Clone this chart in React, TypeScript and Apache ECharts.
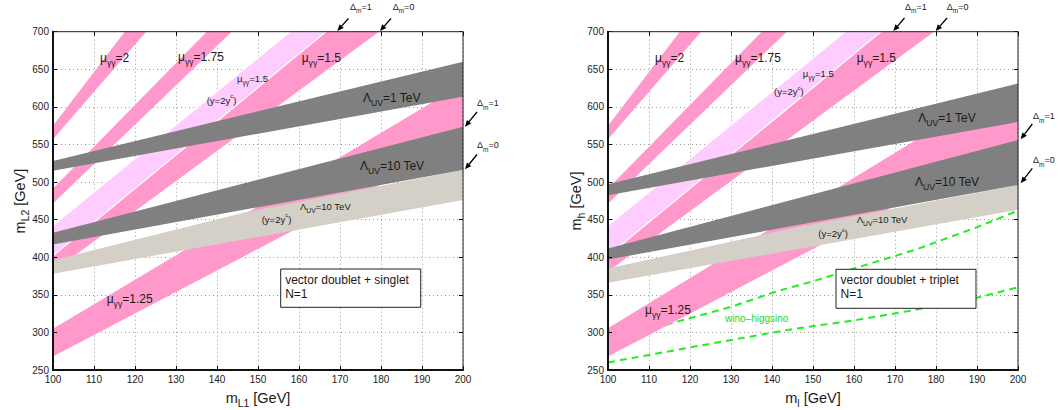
import React, { useEffect, useRef } from "react";
import * as echarts from "echarts";

// ---------- axes ----------
const X_MIN = 100, X_MAX = 200, X_STEP = 10;
const Y_MIN = 250, Y_MAX = 700, Y_STEP = 50;

// ---------- μγγ bands (same in both panels) ----------
const mu2Lower = [[100, 557], [122.7, 700]];
const mu2Upper = [[100, 575], [117.5, 700]];
const mu175Lower = [[100, 471.5], [143.6, 700]];
const mu175Upper = [[100, 491.5], [137.5, 700]];
const mu15ycLower = [[100, 402], [166.6, 700]];
const mu15ycUpper = [[100, 442], [157.8, 700]];
const mu15Lower = [[100, 381], [179.5, 700]];
const mu125Lower = [[100, 268], [200, 554]];
const mu125UpperL = [[100, 305], [192.8, 607], [200, 613.5]];
const mu125UpperR = [[100, 305.5], [179, 569], [200, 580]];

// ---------- Λ_UV bands, left panel (doublet + singlet) ----------
const uv1LowerL = [[100, 515], [200, 613.5]];
const uv1UpperL = [[100, 528], [200, 660]];
const uv10LowerL = [[100, 417], [200, 516]];
const uv10UpperL = [[100, 432.5], [200, 573.5]];
const uv10ycLowerL = [[100, 378], [200, 476]];
const uv10ycUpperL = [[100, 396], [147, 460], [200, 516]];

// ---------- Λ_UV bands, right panel (doublet + triplet) ----------
const uv1LowerR = [[100, 482.5], [200, 580]];
const uv1UpperR = [[100, 497], [200, 631]];
const uv10LowerR = [[100, 397], [200, 496]];
const uv10UpperR = [[100, 411.5], [200, 556]];
const uv10ycLowerR = [[100, 366], [200, 463]];
const uv10ycUpperR = [[100, 385], [147, 441], [200, 496]];

// ---------- wino-higgsino dashed curves (right panel) ----------
const winoUpper = [[100, 288], [116, 313], [130, 334], [142, 356], [150, 368], [160, 385], [175, 410], [190, 440], [200, 462]];
const winoLower = [[100, 260], [120, 280], [144.5, 304], [160, 316], [175, 330], [190, 346], [200, 360]];

// ---------- styling ----------
const FONT = '"Liberation Sans", Arial, Helvetica, sans-serif';
const PINK = "#FF99CC";
const LPINK = "#FFCCFF";
const DGREY = "#808080";
const LGREY = "#D4D0C8";
const GREEN = "#22EE22";
const TXT = "#1a1a1a";

const GRIDS = [
  { left: 53, top: 31.7, width: 410, height: 338.3 },
  { left: 608, top: 31.7, width: 410, height: 338.3 },
];

function makeRich(size: number, color = TXT) {
  const sub = Math.round(size * 0.72 * 10) / 10;
  const padTop = Math.round(size * 0.3 * 10) / 10;
  return {
    b: { fontSize: size, fontFamily: FONT, fill: color, lineHeight: size, verticalAlign: "top", padding: [padTop, 0, 0, 0] },
    s: { fontSize: sub, fontFamily: FONT, fill: color, lineHeight: sub, verticalAlign: "top", padding: [padTop + size * 0.55, 0, 0, 0] },
    p: { fontSize: sub * 0.9, fontFamily: FONT, fill: color, lineHeight: sub, verticalAlign: "top", padding: [0, 0, 0, 0] },
  };
}

type Part = [string, string];
function rich(parts: Part[]) {
  return parts.map(([t, k]) => `{${k}|${t}}`).join("");
}

function lbl(x: number, y: number, parts: Part[], size: number, color = TXT, extra: any = {}) {
  return {
    type: "text",
    x,
    y,
    z: 100,
    silent: true,
    ...extra,
    style: {
      text: rich(parts),
      rich: makeRich(size, color),
      align: extra.align || "left",
      verticalAlign: extra.verticalAlign || "top",
    },
  };
}

const mu = (v: string): Part[] => [["μ", "b"], ["γγ", "s"], [v, "b"]];
const lam = (v: string): Part[] => [["Λ", "b"], ["UV", "s"], [v, "b"]];
const yc: Part[] = [["(y=2y", "b"], ["c", "p"], [")", "b"]];
const dm = (v: string): Part[] => [["Δ", "b"], ["m", "s"], [v, "b"]];

function arrow(tx: number, ty: number, sx: number, sy: number) {
  const dx = tx - sx, dy = ty - sy;
  const len = Math.sqrt(dx * dx + dy * dy);
  const ux = dx / len, uy = dy / len;
  const hl = 6.5, hw = 2.8;
  const bx = tx - ux * hl, by = ty - uy * hl;
  return [
    { type: "line", z: 100, silent: true, shape: { x1: sx, y1: sy, x2: bx + ux, y2: by + uy }, style: { stroke: "#000", lineWidth: 1.3 } },
    {
      type: "polygon",
      z: 100,
      silent: true,
      shape: { points: [[tx, ty], [bx - uy * hw, by + ux * hw], [bx + uy * hw, by - ux * hw]] },
      style: { fill: "#000" },
    },
  ];
}

function band(g: number, lower: number[][], upper: number[][], color: string, stroke?: string) {
  return {
    type: "custom",
    xAxisIndex: 2 * g,
    yAxisIndex: 2 * g,
    silent: true,
    clip: true,
    z: 3,
    data: [[lower[0][0], lower[0][1]]],
    renderItem: (params: any, api: any) => {
      if (params.dataIndex !== 0) return null;
      const pts = [...lower, ...upper.slice().reverse()].map((p) => api.coord(p));
      return {
        type: "polygon",
        shape: { points: pts },
        style: { fill: color, stroke: stroke || "none", lineWidth: stroke ? 1.2 : 0 },
      };
    },
  };
}

function axisSet(g: number) {
  const common = { gridIndex: g, type: "value" };
  const xs = [
    {
      ...common, min: X_MIN, max: X_MAX, interval: X_STEP, position: "bottom", z: 10,
      axisLine: { show: true, onZero: false, lineStyle: { color: "#000", width: 2 } },
      axisTick: { show: true, inside: true, length: 4, lineStyle: { color: "#000", width: 1 } },
      axisLabel: { show: true, color: "#222", fontSize: 10, fontFamily: FONT, margin: 4 },
      splitLine: { show: false },
    },
    {
      ...common, min: X_MIN, max: X_MAX, interval: X_STEP, position: "top",
      axisLine: { show: false },
      axisTick: { show: true, inside: true, length: 4, lineStyle: { color: "#000" } },
      axisLabel: { show: false },
      splitLine: { show: true, lineStyle: { color: "#999", width: 1, type: [1, 3] } },
    },
  ];
  const ys = [
    {
      ...common, min: Y_MIN, max: Y_MAX, interval: Y_STEP, position: "left", z: 10,
      axisLine: { show: true, onZero: false, lineStyle: { color: "#000", width: 2 } },
      axisTick: { show: true, inside: true, length: 4, lineStyle: { color: "#000", width: 1 } },
      axisLabel: { show: true, color: "#222", fontSize: 10, fontFamily: FONT, margin: 4 },
      splitLine: { show: false },
    },
    {
      ...common, min: Y_MIN, max: Y_MAX, interval: Y_STEP, position: "right",
      axisLine: { show: false },
      axisTick: { show: true, inside: true, length: 4, lineStyle: { color: "#000" } },
      axisLabel: { show: false },
      splitLine: { show: true, lineStyle: { color: "#999", width: 1, type: [1, 3] } },
    },
  ];
  return { xs, ys };
}

function buildOption() {
  const a0 = axisSet(0), a1 = axisSet(1);
  const series: any[] = [
    // left panel
    band(0, mu2Lower, mu2Upper, PINK),
    band(0, mu175Lower, mu175Upper, PINK),
    band(0, mu15Lower, mu15ycLower, PINK),
    band(0, mu15ycLower, mu15ycUpper, LPINK, "#fff"),
    band(0, mu125Lower, mu125UpperL, PINK),
    band(0, uv10ycLowerL, uv10ycUpperL, LGREY),
    band(0, uv10LowerL, uv10UpperL, DGREY),
    band(0, uv1LowerL, uv1UpperL, DGREY),
    // right panel
    {
      type: "line", xAxisIndex: 2, yAxisIndex: 2, data: winoUpper, symbol: "none", silent: true, z: 1,
      lineStyle: { color: GREEN, width: 2, type: [7, 5] },
    },
    {
      type: "line", xAxisIndex: 2, yAxisIndex: 2, data: winoLower, symbol: "none", silent: true, z: 1,
      lineStyle: { color: GREEN, width: 2, type: [7, 5] },
    },
    band(1, mu2Lower, mu2Upper, PINK),
    band(1, mu175Lower, mu175Upper, PINK),
    band(1, mu15Lower, mu15ycLower, PINK),
    band(1, mu15ycLower, mu15ycUpper, LPINK, "#fff"),
    band(1, mu125Lower, mu125UpperR, PINK),
    band(1, uv10ycLowerR, uv10ycUpperR, LGREY),
    band(1, uv10LowerR, uv10UpperR, DGREY),
    band(1, uv1LowerR, uv1UpperR, DGREY),
  ];

  const graphics: any[] = [];
  // frames
  GRIDS.forEach((g) => {
    graphics.push({
      type: "rect", z: 99, silent: true,
      shape: { x: g.left, y: g.top, width: g.width, height: g.height },
      style: { fill: "none", stroke: "#222", lineWidth: 1 },
    });
  });

  // left panel labels
  graphics.push(
    lbl(100, 48, mu("=2"), 12),
    lbl(178, 47.5, mu("=1.75"), 12),
    lbl(237, 71, mu("=1.5"), 9.5),
    lbl(206.7, 92.4, yc, 9.5),
    lbl(301.7, 48, mu("=1.5"), 12),
    lbl(363, 88, lam("=1 TeV"), 12),
    lbl(360, 156.4, lam("=10 TeV"), 12),
    lbl(300, 198.4, lam("=10 TeV"), 9.5),
    lbl(261.7, 211.4, yc, 9.5),
    lbl(106.7, 289.4, mu("=1.25"), 12),
    lbl(350, -0.5, dm("=1"), 9),
    lbl(392.7, -0.5, dm("=0"), 9),
    lbl(477, 96, dm("=1"), 9),
    lbl(477, 138, dm("=0"), 9),
  );
  graphics.push(...arrow(337.3, 31, 348.5, 18.5));
  graphics.push(...arrow(380, 31, 391, 18.5));
  graphics.push(...arrow(465, 126.7, 477, 112));
  graphics.push(...arrow(465, 169.3, 477, 154.5));

  // right panel labels
  graphics.push(
    lbl(655, 48, mu("=2"), 12),
    lbl(735, 48, mu("=1.75"), 12),
    lbl(802.7, 65.4, mu("=1.5"), 9.5),
    lbl(774, 84, yc, 9.5),
    lbl(856.7, 48.4, mu("=1.5"), 12),
    lbl(918.3, 108.7, lam("=1 TeV"), 12),
    lbl(915, 172, lam("=10 TeV"), 12),
    lbl(856.7, 212, lam("=10 TeV"), 9.5),
    lbl(818.3, 226, yc, 9.5),
    lbl(645, 300.4, mu("=1.25"), 12),
    lbl(725, 310.5, [["wino–higgsino", "b"]], 10, "#22DD22"),
    lbl(905, -0.5, dm("=1"), 9),
    lbl(946.7, -0.5, dm("=0"), 9),
    lbl(1033, 109, dm("=1"), 9),
    lbl(1033, 153, dm("=0"), 9),
  );
  graphics.push(...arrow(893.3, 31, 904.5, 18));
  graphics.push(...arrow(935.7, 31, 947, 18));
  graphics.push(...arrow(1020.7, 139.3, 1032.3, 124));
  graphics.push(...arrow(1020.7, 183.3, 1032.3, 168.3));

  // legend boxes
  const boxes = [
    { x: 280.7, y: 269, w: 140, h: 38.3, t: "vector doublet + singlet" },
    { x: 836, y: 269.3, w: 140, h: 39, t: "vector doublet + triplet" },
  ];
  boxes.forEach((b) => {
    graphics.push({
      type: "rect", z: 100, silent: true,
      shape: { x: b.x, y: b.y, width: b.w, height: b.h },
      style: { fill: "#fff", stroke: "#222", lineWidth: 1 },
    });
    graphics.push({
      type: "text", z: 101, silent: true, x: b.x + 4.5, y: b.y + 3.5,
      style: { text: b.t + "\nN=1", fontSize: 12, fontFamily: FONT, fill: TXT, lineHeight: 14, align: "left", verticalAlign: "top" },
    });
  });

  // axis titles
  graphics.push(
    lbl(258, 393, [["m", "b"], ["L1", "s"], [" [GeV]", "b"]], 14.5, TXT, { align: "center", verticalAlign: "middle" }),
    lbl(15, 201, [["m", "b"], ["L2", "s"], [" [GeV]", "b"]], 14.5, TXT, { align: "center", verticalAlign: "middle", rotation: Math.PI / 2 }),
    lbl(813, 393, [["m", "b"], ["l", "s"], [" [GeV]", "b"]], 14.5, TXT, { align: "center", verticalAlign: "middle" }),
    lbl(571.5, 201, [["m", "b"], ["h", "s"], [" [GeV]", "b"]], 14.5, TXT, { align: "center", verticalAlign: "middle", rotation: Math.PI / 2 }),
  );

  return {
    animation: false,
    backgroundColor: "#fff",
    grid: GRIDS.map((g) => ({ ...g, containLabel: false })),
    xAxis: [...a0.xs, ...a1.xs],
    yAxis: [...a0.ys, ...a1.ys],
    series,
    graphic: { elements: graphics },
  };
}

export default function App() {
  const ref = useRef<HTMLDivElement>(null);
  useEffect(() => {
    document.body.style.margin = "0";
    const chart = echarts.init(ref.current as HTMLDivElement, null, { renderer: "svg" });
    chart.setOption(buildOption() as any);
    return () => chart.dispose();
  }, []);
  return <div ref={ref} style={{ width: 1058, height: 410 }} />;
}
